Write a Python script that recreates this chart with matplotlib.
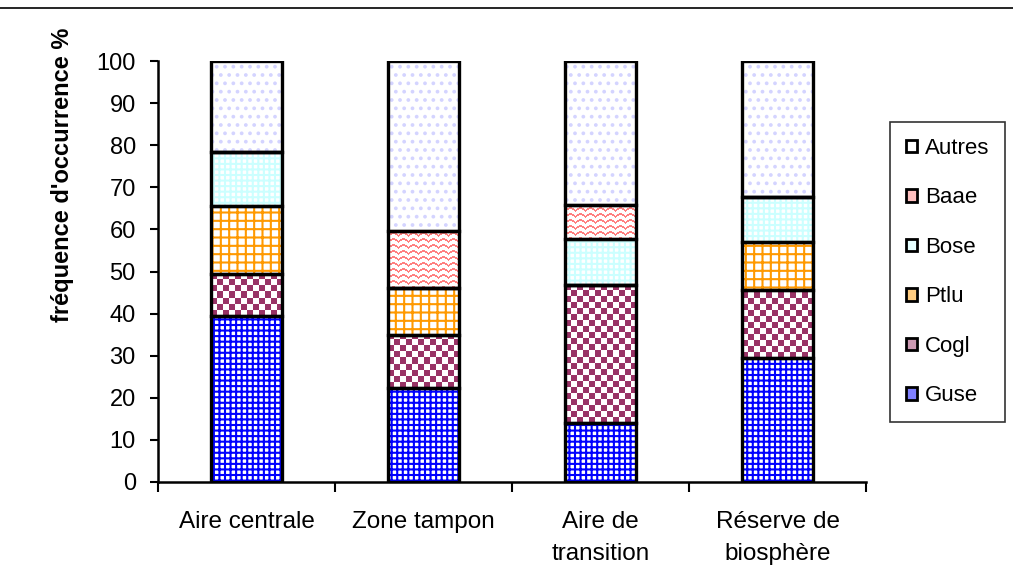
import numpy as np
import matplotlib
matplotlib.use('Agg')
import matplotlib.pyplot as plt
import matplotlib.colors as mcolors
from matplotlib.patches import Patch
from matplotlib.lines import Line2D

plt.rcParams['font.family'] = ['Liberation Sans', 'DejaVu Sans']
plt.rcParams['hatch.linewidth'] = 1.5

# ---------------- data ----------------
categories = ['Aire centrale', 'Zone tampon', 'Aire de\ntransition', 'Réserve de\nbiosphère']
series_names = ['Guse', 'Cogl', 'Ptlu', 'Bose', 'Baae', 'Autres']
guse = [39.4, 22.3, 14.0, 29.5]
cogl = [10.0, 12.6, 32.8, 16.1]
ptlu = [16.2, 11.2, 0.0, 11.4]
bose = [12.9, 0.0, 10.9, 10.8]
baae = [0.0, 13.5, 8.0, 0.0]
autres = [21.5, 40.4, 34.3, 32.2]
yticks = list(range(0, 101, 10))
ylabel = "fréquence d'occurrence %"

series_values = [guse, cogl, ptlu, bose, baae, autres]
# style: (kind, pattern, colour)
styles = {
    'Guse': ('hatch', '+++', '#0000ff'),
    'Cogl': ('tex', 'checker', '#993366'),
    'Ptlu': ('hatch', '++', '#ff9900'),
    'Bose': ('hatch', '+++', '#ccffff'),
    'Baae': ('tex', 'wave', '#ff8080'),
    'Autres': ('hatch', '..', '#d4d4ff'),
}

W, H = 1013, 582
fig = plt.figure(figsize=(W / 100, H / 100), dpi=100)
ax = fig.add_axes([158 / W, 1 - 482 / H, (866 - 158) / W, (482 - 61) / H])
x = np.arange(len(categories))
bw = 0.4
ax.set_xlim(-0.5, len(categories) - 0.5)
ax.set_ylim(0, 100)


def texture(x0, y0, w, h, kind, color):
    p0 = ax.transData.transform((x0, y0))
    p1 = ax.transData.transform((x0 + w, y0 + h))
    nx = max(int(round(p1[0] - p0[0])), 1)
    ny = max(int(round(p1[1] - p0[1])), 1)
    img = np.ones((ny, nx, 3))
    yy, xx = np.mgrid[0:ny, 0:nx]
    if kind == 'checker':
        mask = ((xx // 6 + yy // 6) % 2) == 0
    else:
        period = 10
        tri = np.abs((xx % period) - period / 2) / (period / 2) * 3
        mask = ((yy + tri) % 6) < 2
    img[mask] = mcolors.to_rgb(color)
    ax.imshow(img, extent=(x0, x0 + w, y0, y0 + h), origin='lower',
              interpolation='nearest', aspect='auto', zorder=2.5)


bottom = np.zeros(len(categories))
for name, vals in zip(series_names, series_values):
    vals = np.array(vals)
    kind, pat, col = styles[name]
    if kind == 'hatch':
        ax.bar(x, vals, bw, bottom=bottom, color='white', edgecolor=col,
               hatch=pat, linewidth=0, zorder=2)
    else:
        ax.bar(x, vals, bw, bottom=bottom, color='white', linewidth=0, zorder=2)
        for xi, v, b in zip(x, vals, bottom):
            if v > 0:
                texture(xi - bw / 2, b, bw, v, pat, col)
    ax.bar(x, vals, bw, bottom=bottom, fill=False, edgecolor='black',
           linewidth=2.4, zorder=3)
    bottom += vals

ax.set_xlim(-0.5, len(categories) - 0.5)
ax.set_ylim(0, 100)

for s in ['top', 'right']:
    ax.spines[s].set_visible(False)
for s in ['left', 'bottom']:
    ax.spines[s].set_linewidth(1.8)

ax.set_yticks(yticks)
ax.tick_params(axis='y', direction='out', length=6, width=1.5, labelsize=17, pad=10)
ax.set_xticks(np.arange(-0.5, len(categories), 1.0))
ax.set_xticklabels([])
ax.tick_params(axis='x', which='major', direction='out', length=7, width=1.5)
ax.set_xticks(x, minor=True)
ax.set_xticklabels(categories, minor=True, fontsize=17.5, linespacing=1.55)
ax.tick_params(axis='x', which='minor', length=0, pad=21)

fig.text(62 / W, 1 - 175 / H, ylabel, rotation=90, ha='center', va='center',
         fontsize=17, fontweight='bold')

fig.add_artist(Line2D([0, 1], [1 - 8 / H, 1 - 8 / H], transform=fig.transFigure,
                      color='black', linewidth=1.2))

legend_fill = {'Guse': '#8080ff', 'Cogl': '#cc99b2', 'Ptlu': '#ffcc80',
               'Bose': '#e6ffff', 'Baae': '#ffc0c0', 'Autres': 'white'}
handles = [Patch(facecolor=legend_fill[n], edgecolor='black', linewidth=2.0, label=n)
           for n in reversed(series_names)]
leg = fig.legend(handles=handles, loc='upper left',
                 bbox_to_anchor=(890 / W, 1 - 122 / H), borderaxespad=0,
                 fontsize=16, frameon=True, fancybox=False, handlelength=0.5,
                 handleheight=0.5, handletextpad=0.35, labelspacing=1.28,
                 borderpad=0.72)
leg.get_frame().set_edgecolor('black')
leg.get_frame().set_linewidth(1.2)

fig.savefig('out.png', dpi=100)
